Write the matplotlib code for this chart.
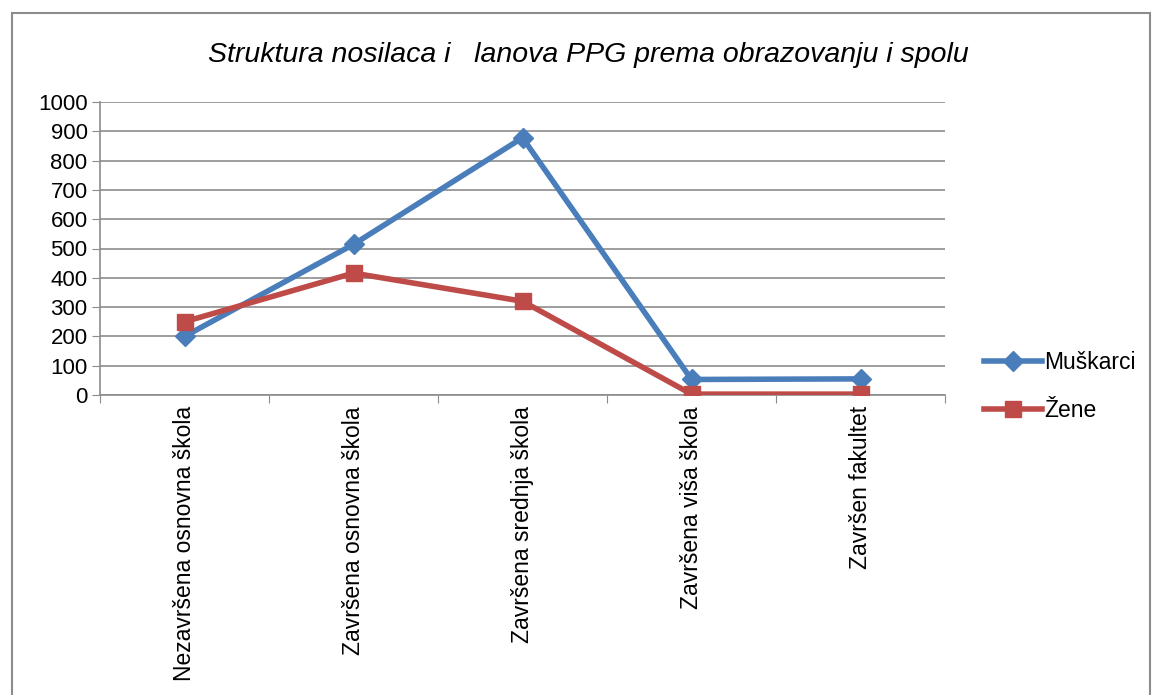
import matplotlib
matplotlib.use("Agg")
import matplotlib.pyplot as plt
from matplotlib.patches import Rectangle

# podaci
kategorije = ["Nezavršena osnovna škola", "Završena osnovna škola",
              "Završena srednja škola", "Završena viša škola", "Završen fakultet"]
muskarci = [200, 514, 878, 53, 55]
zene = [250, 416, 320, 3, 3]
y_ticks = list(range(0, 1001, 100))

plt.rcParams["font.family"] = ["Liberation Sans Narrow", "Liberation Sans", "DejaVu Sans"]

fig = plt.figure(figsize=(11.53, 6.95), dpi=100)
ax = fig.add_axes([100 / 1153, 1 - 395 / 695, 845 / 1153, 293 / 695])

# okvir grafikona
fig.patches.append(Rectangle((12 / 1153, -0.05), 1138 / 1153, 1 - 13 / 695 + 0.05,
                             transform=fig.transFigure, fill=False,
                             edgecolor="#8c8c8c", linewidth=1.5))

x = list(range(len(kategorije)))
ax.plot(x, muskarci, color="#4A7EBB", linewidth=4, marker="D", markersize=10,
        label="Muškarci", zorder=3)
ax.plot(x, zene, color="#BE4B48", linewidth=4, marker="s", markersize=12,
        label="Žene", zorder=4)

ax.set_xlim(-0.5, len(kategorije) - 0.5)
ax.set_ylim(0, 1000)
ax.set_yticks(y_ticks)
ax.set_yticklabels([str(v) for v in y_ticks], fontsize=16)
ax.yaxis.grid(True, color="#8c8c8c", linewidth=1.2)
ax.set_axisbelow(True)

ax.set_xticks([i - 0.5 for i in range(len(kategorije) + 1)], minor=False)
ax.set_xticklabels([])
ax.tick_params(axis="x", length=6, color="#8c8c8c", direction="out")
ax.tick_params(axis="y", length=6, color="#8c8c8c", direction="out", pad=3)
ax.set_xticks(x, minor=True)
ax.set_xticklabels(kategorije, minor=True, rotation=90, fontsize=16.5)
ax.tick_params(axis="x", which="minor", length=0, pad=8)

for s in ["top", "right"]:
    ax.spines[s].set_visible(False)
for s in ["left", "bottom"]:
    ax.spines[s].set_color("#8c8c8c")
    ax.spines[s].set_linewidth(1.2)

fig.text(588 / 1153, 1 - 55 / 695, "Struktura nosilaca i   lanova PPG prema obrazovanju i spolu",
         ha="center", va="center", fontsize=20.5, style="italic")

ax.legend(loc="center left", bbox_to_anchor=(1.022, 0.03), frameon=False,
          fontsize=16.5, handlelength=2.5, handletextpad=0.1, labelspacing=1.1)

fig.savefig("out.png", dpi=100)
